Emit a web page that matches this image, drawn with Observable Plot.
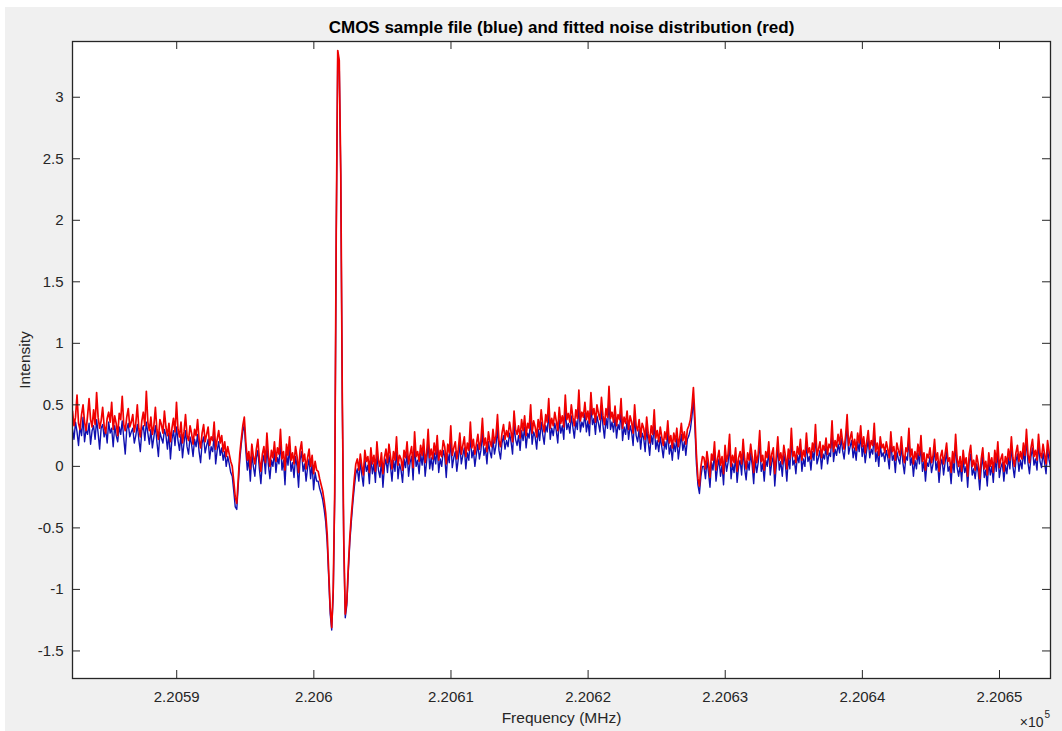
<!DOCTYPE html>
<html>
<head>
<meta charset="utf-8">
<script src="https://cdn.jsdelivr.net/npm/d3@7"></script>
<script src="https://cdn.jsdelivr.net/npm/@observablehq/plot@0.6"></script>
<style>
  html, body { margin: 0; padding: 0; background: #ffffff; }
  #wrap { position: absolute; left: 5px; top: 7px; width: 1057px; height: 724px; background: #f0f0f0; }
  #wrap svg { display: block; }
</style>
</head>
<body>
<div id="wrap"></div>
<script>
// Sampling grid of the spectrum (MHz)
const freqStart = 220582.4;
const freqStep = 0.1099;

// Fitted noise distribution (red)
const red = [
  .45, .33, .4, .58, .35, .3, .42, .5, .36, .29,
  .41, .55, .38, .32, .46, .34, .6, .4, .31, .37,
  .48, .33, .27, .39, .44, .36, .52, .3, .41, .35,
  .25, .43, .38, .57, .34, .29, .4, .47, .32, .36,
  .42, .28, .35, .5, .31, .24, .37, .44, .33, .61,
  .36, .29, .4, .26, .33, .48, .3, .22, .38, .34,
  .27, .45, .32, .25, .35, .2, .31, .39, .28, .52,
  .3, .24, .36, .19, .28, .42, .25, .21, .33, .27,
  .18, .3, .25, .38, .22, .15, .27, .34, .2, .26,
  .32, .17, .24, .21, .36, .14, .22, .29, .19, .25,
  .12, .2, .08, .16, .1, .04,
  .0, -.12, -.25, -.3, -.1, .1, .22, .33, .4, .2,
  .05, .12, -.02, .18, .08, .02, .14, .22, .06, -.04,
  .1, .16, .03, .27, .09, .0, .13, .07, .2, .04,
  .15, .1, .3, .06, .12, -.03, .18, .09, .24, .05,
  .11, .02, .16, .08, -.05, .13, .2, .04, .1, -.02,
  .07, .14, .0, .09, -.06, .04, -.03,
  -.04, -.1, -.15, -.2, -.28, -.38, -.55, -.85, -1.15, -1.31,
  -1.0, -.2, 1.9, 3.38, 3.3, 2.4, .6, -.6, -1.2, -1.1,
  -.82, -.58, -.4, -.25, -.1, .02,
  .06, -.03, .1, .0, -.07, .13, .04, .08, -.05, .15,
  .02, .09, -.04, .2, .05, .0, .11, -.06, .07, .14,
  .03, .18, .08, -.02, .12, .05, .24, .01, .09, .06,
  -.03, .13, .07, .2, .02, .1, .16, -.01, .28, .08,
  .12, .04, .17, .09, .22, .03, .11, .3, .07, .14,
  .06, .19, .1, .25, .05, .13, .08, .21, .16, .02,
  .18, .11, .33, .09, .15, .2, .06, .14, .27, .1,
  .17, .24, .08, .19, .13, .36, .15, .22, .1, .18,
  .26, .14, .21, .39, .17, .23, .12, .28, .2, .16,
  .3, .19, .25, .42, .21, .16, .27, .34, .22, .29,
  .24, .36, .28, .2, .45, .3, .26, .33, .23, .38,
  .29, .41, .25, .35, .31, .5, .27, .37, .32, .24,
  .38, .3, .46, .34, .28, .42, .36, .55, .31, .39,
  .33, .44, .37, .29, .48, .35, .41, .32, .58, .38,
  .43, .36, .5, .4, .33, .46, .39, .62, .37, .44,
  .4, .52, .38, .45, .35, .6, .42, .47, .36, .5,
  .43, .38, .56, .41, .34, .47, .4, .65, .39, .44,
  .36, .49, .33, .42, .38, .55, .31, .4, .35, .45,
  .3, .41, .36, .27, .5, .33, .29, .38, .24, .35,
  .31, .22, .4, .27, .19, .33, .26, .46, .23, .29,
  .2, .32, .24, .17, .28, .22, .37, .19, .25, .15,
  .27, .2, .31, .16, .24, .35, .21, .28, .18, .3,
  .33,
  .38, .48, .64, .4, .1, -.1, -.16, .0, .08,
  .07, -.02, .12, .03, -.09, .1, .05, .2, -.03, .06,
  .13, .01, .08, -.06, .17, .04, .1, .26, .0, .09,
  .03, .15, -.04, .07, .12, .02, .22, .06, -.02, .11,
  .05, .18, .08, -.05, .13, .03, .1, .29, .04, .09,
  -.03, .12, .07, .2, .01, .1, .15, -.06, .08, .24,
  .05, .11, .02, .17, .09, -.02, .14, .06, .31, .08,
  .12, .03, .16, .1, .22, .05, .13, .08, .27, .11,
  .15, .06, .19, .12, .34, .09, .14, .2, .07, .17,
  .13, .23, .1, .18, .15, .37, .12, .21, .16, .26,
  .18, .3, .2, .14, .25, .42, .17, .23, .28, .15,
  .22, .13, .27, .19, .33, .16, .24, .11, .2, .29,
  .14, .21, .17, .35, .12, .19, .09, .24, .15, .18,
  .11, .2, .14, .07, .28, .12, .16, .05, .19, .13,
  .09, .24, .1, .03, .15, .12, .31, .08, .14, .02,
  .12, .06, .18, .09, .25, .04, .11, -.03, .1, .07,
  .15, .03, .09, .22, .05, .11, -.04, .08, .13, .02,
  .1, .19, .04, .07, -.05, .12, .03, .26, .06, .0,
  .08, -.04, .13, .02, .07, -.08, .1, .17, .0, .05,
  -.03, .09, .02, -.1, .06, .15, -.02, .04, -.07, .11,
  .0, .07, -.05, .13, .03, .2, -.01, .06, .1, -.04,
  .08, .02, .14, .05, .24, .07, .0, .11, .17, .04,
  .12, .06, .19, .09, .3, .1, .03, .15, .22, .08,
  .13, .05, .26, .11, .07, .18, .1, .02, .21, .12,
  .06
];

// CMOS sample file (blue)
const blue = [
  .3, .22, .36, .28, .17, .33, .25, .4, .2, .3,
  .26, .35, .18, .29, .33, .22, .38, .27, .14, .31,
  .34, .24, .3, .19, .36, .27, .31, .16, .33, .25,
  .2, .32, .26, .37, .23, .1, .3, .35, .24, .28,
  .31, .19, .25, .34, .22, .12, .29, .33, .21, .36,
  .27, .18, .3, .15, .24, .33, .2, .08, .28, .23,
  .19, .3, .25, .14, .27, .06, .22, .29, .17, .32,
  .21, .13, .26, .07, .19, .29, .16, .1, .24, .18,
  .08, .22, .16, .26, .12, .03, .19, .24, .11, .17,
  .22, .06, .16, .12, .25, .02, .13, .2, .09, .15,
  .05, .12, .0, .08, .02, -.05,
  -.08, -.2, -.33, -.35, -.15, .05, .18, .28, .34, .13,
  -.03, .06, -.12, .1, .0, -.08, .07, .13, -.02, -.14,
  .03, .09, -.06, .16, .01, -.1, .05, .0, .12, -.05,
  .07, .02, .2, -.03, .05, -.15, .1, .01, .15, -.04,
  .03, -.09, .08, .0, -.17, .05, .12, -.04, .02, -.12,
  -.01, .06, -.1, .02, -.19, -.05, -.12,
  -.12, -.18, -.22, -.27, -.35, -.45, -.62, -.9, -1.2, -1.33,
  -1.05, -.25, 1.85, 3.36, 3.27, 2.35, .55, -.65, -1.23, -1.13,
  -.86, -.62, -.45, -.3, -.17, -.06,
  -.02, -.12, .04, -.07, -.16, .06, -.04, .01, -.14, .07,
  -.06, .02, -.13, .1, -.03, -.09, .04, -.17, .0, .06,
  -.05, .09, .0, -.12, .05, -.04, .14, -.1, .02, -.03,
  -.13, .06, -.01, .11, -.08, .03, .08, -.11, .17, .0,
  .05, -.06, .1, .01, .13, -.08, .04, .2, -.02, .07,
  -.03, .11, .02, .16, -.05, .06, .0, .13, .08, -.09,
  .1, .03, .22, -.01, .07, .12, -.04, .06, .18, .02,
  .09, .15, -.02, .11, .05, .25, .07, .13, .0, .1,
  .18, .06, .13, .28, .09, .15, .02, .2, .12, .07,
  .22, .1, .17, .31, .13, .06, .19, .25, .14, .21,
  .16, .27, .2, .1, .34, .22, .17, .25, .13, .29,
  .21, .32, .15, .27, .23, .38, .18, .28, .24, .14,
  .3, .21, .36, .26, .18, .33, .28, .44, .22, .31,
  .25, .35, .29, .19, .38, .27, .33, .22, .46, .3,
  .35, .27, .41, .32, .23, .37, .3, .5, .28, .36,
  .32, .43, .28, .37, .25, .49, .34, .39, .26, .41,
  .35, .28, .46, .33, .23, .39, .31, .53, .3, .36,
  .28, .4, .23, .34, .3, .45, .21, .32, .26, .37,
  .22, .33, .28, .17, .41, .25, .2, .3, .14, .27,
  .23, .12, .31, .2, .09, .25, .18, .36, .14, .21,
  .12, .24, .16, .07, .2, .14, .28, .1, .17, .05,
  .19, .12, .23, .06, .16, .26, .13, .2, .09, .22,
  .25,
  .3, .4, .55, .32, .02, -.15, -.22, -.08, .0,
  .0, -.1, .05, -.05, -.17, .03, -.03, .12, -.12, -.01,
  .06, -.08, .01, -.15, .09, -.04, .03, .18, -.1, .02,
  -.05, .08, -.13, .0, .05, -.07, .14, -.02, -.11, .04,
  -.03, .11, .01, -.14, .06, -.05, .03, .21, -.04, .02,
  -.12, .05, .0, .13, -.07, .03, .08, -.16, .01, .16,
  -.03, .04, -.08, .1, .02, -.12, .07, -.02, .23, .01,
  .05, -.06, .09, .03, .15, -.04, .06, .0, .19, .04,
  .08, -.03, .12, .05, .26, .02, .07, .13, -.02, .1,
  .06, .16, .02, .11, .08, .29, .04, .14, .09, .18,
  .11, .23, .13, .06, .18, .34, .1, .16, .21, .07,
  .15, .05, .2, .12, .26, .08, .17, .03, .13, .22,
  .07, .14, .1, .27, .04, .12, .0, .17, .08, .11,
  .04, .13, .07, -.02, .21, .05, .09, -.05, .12, .06,
  .02, .17, .03, -.06, .08, .05, .23, .01, .07, -.08,
  .05, -.02, .11, .02, .18, -.04, .04, -.12, .03, .0,
  .08, -.05, .02, .15, -.03, .04, -.13, .01, .06, -.07,
  .03, .12, -.04, .0, -.14, .05, -.05, .19, -.01, -.08,
  .01, -.12, .06, -.05, .0, -.17, .03, .1, -.07, -.02,
  -.1, .02, -.05, -.19, -.01, .08, -.09, -.03, -.16, .04,
  -.07, .0, -.13, .06, -.04, .13, -.09, -.01, .03, -.12,
  .01, -.06, .07, -.02, .17, .0, -.09, .04, .1, -.04,
  .05, -.02, .12, .02, .23, .03, -.06, .08, .15, .01,
  .06, -.03, .19, .04, -.01, .11, .03, -.06, .14, .05,
  -.01
];

// Axis ticks
const xTicks = [220590, 220600, 220610, 220620, 220630, 220640, 220650];
const yTicks = [-1.5, -1, -0.5, 0, 0.5, 1, 1.5, 2, 2.5, 3];
const xDomain = [220582.4, 220653.72];
const yDomain = [-1.724, 3.453];

const titleText = "CMOS sample file (blue) and fitted noise distribution (red)";
const xLabel = "Frequency (MHz)";
const yLabel = "Intensity";

const table = red.map((v, i) => ({f: freqStart + i * freqStep, red: v, blue: blue[i]}));

const W = 1057, H = 724, mL = 67, mT = 34, mR = 12, mB = 53;
const fw = W - mL - mR, fh = H - mT - mB, tk = 8;
const axisColor = "#262626";
const font = "Helvetica, Arial, 'Liberation Sans', sans-serif";

const chart = Plot.plot({
  width: W, height: H,
  marginLeft: mL, marginTop: mT, marginRight: mR, marginBottom: mB,
  x: {domain: xDomain},
  y: {domain: yDomain},
  style: {background: "#f0f0f0", fontFamily: font, fontSize: "14px", color: axisColor},
  marks: [
    Plot.frame({fill: "white", stroke: "none"}),
    Plot.line(table, {x: "f", y: "blue", stroke: "#1010b0", strokeWidth: 1.4, clip: true}),
    Plot.line(table, {x: "f", y: "red", stroke: "#f00000", strokeWidth: 1.7, clip: true}),
    Plot.tickX(xTicks, {x: d => d, insetTop: fh - tk, stroke: axisColor, strokeWidth: 1}),
    Plot.tickX(xTicks, {x: d => d, insetBottom: fh - tk, stroke: axisColor, strokeWidth: 1}),
    Plot.tickY(yTicks, {y: d => d, insetRight: fw - tk, stroke: axisColor, strokeWidth: 1}),
    Plot.tickY(yTicks, {y: d => d, insetLeft: fw - tk, stroke: axisColor, strokeWidth: 1}),
    Plot.axisX(xTicks, {tickSize: 0, tickPadding: 13, label: null, fontSize: 15,
      tickFormat: d => (d / 1e5).toFixed(4).replace(/0+$/, "")}),
    Plot.axisY(yTicks, {tickSize: 0, tickPadding: 9, label: null, fontSize: 15,
      tickFormat: d => String(d)}),
    Plot.frame({stroke: axisColor, strokeWidth: 1.3}),
    Plot.text([titleText], {frameAnchor: "top", dy: -14, lineAnchor: "middle", textAnchor: "middle", fontSize: 17, fontWeight: "bold", fill: "#000"}),
    Plot.text([xLabel], {frameAnchor: "bottom", dy: 40, lineAnchor: "middle", textAnchor: "middle", fontSize: 15.5, fill: axisColor}),
    Plot.text([yLabel], {frameAnchor: "left", dx: -47, rotate: -90, lineAnchor: "middle", textAnchor: "middle", fontSize: 15.5, fill: axisColor}),
    Plot.text(["\u00d710"], {frameAnchor: "bottom-right", dx: -7, dy: 44, lineAnchor: "middle", textAnchor: "end", fontSize: 14, fill: axisColor}),
    Plot.text(["5"], {frameAnchor: "bottom-right", dx: -6, dy: 36, lineAnchor: "middle", textAnchor: "start", fontSize: 10, fill: axisColor})
  ]
});
document.getElementById("wrap").appendChild(chart);
</script>
</body>
</html>
